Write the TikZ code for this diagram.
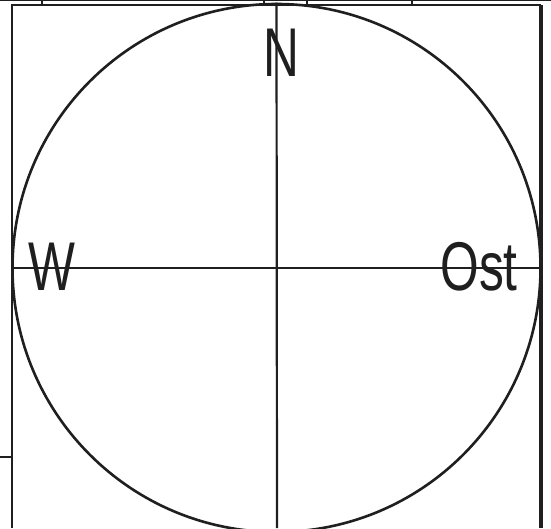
\documentclass[tikz,border=0pt]{standalone}
\usepackage{fontspec}
\setmainfont{Liberation Sans}[FakeStretch=0.72]
\usetikzlibrary{positioning,calc}

\begin{document}
\begin{tikzpicture}[
  x=1pt, y=1pt,
  line cap=butt,
  frameline/.style={draw=black!88, line width=2.6pt},
  thinline/.style={draw=black!88, line width=2pt},
  axisline/.style={draw=black!88, line width=2.2pt},
  dirlabel/.style={inner sep=0pt, font=\fontsize{69}{69}\selectfont, text=black!88}
]
  \useasboundingbox (0,0) rectangle (551,528);
  % frame, cut off at the page edges
  \draw[frameline] (12,0) -- (12,523) -- (541,523);
  \draw[frameline, line width=3.6pt] (541,523) -- (541,0);
  \draw[thinline] (0,527.5) -- (551,527.5);
  \foreach \tx in {42,264,307,412}
    \draw[thinline] (\tx,523) -- (\tx,528);
  \draw[frameline] (0,71) -- (12,71);
  % circle with axes
  \node[circle, draw=black!88, line width=2.6pt, minimum size=528pt, inner sep=0pt] (kreis) at (276.5,260) {};
  \draw[axisline] (kreis.west) -- (kreis.east);
  \draw[axisline] (kreis.north) -- (277,0);
  % directions
  \node[dirlabel] (nord) at (281.5,475.5) {N};
  \node[dirlabel] (west) at (52,261) {W};
  \node[dirlabel] (ost) at (479,261) {Ost};
\end{tikzpicture}
\end{document}
